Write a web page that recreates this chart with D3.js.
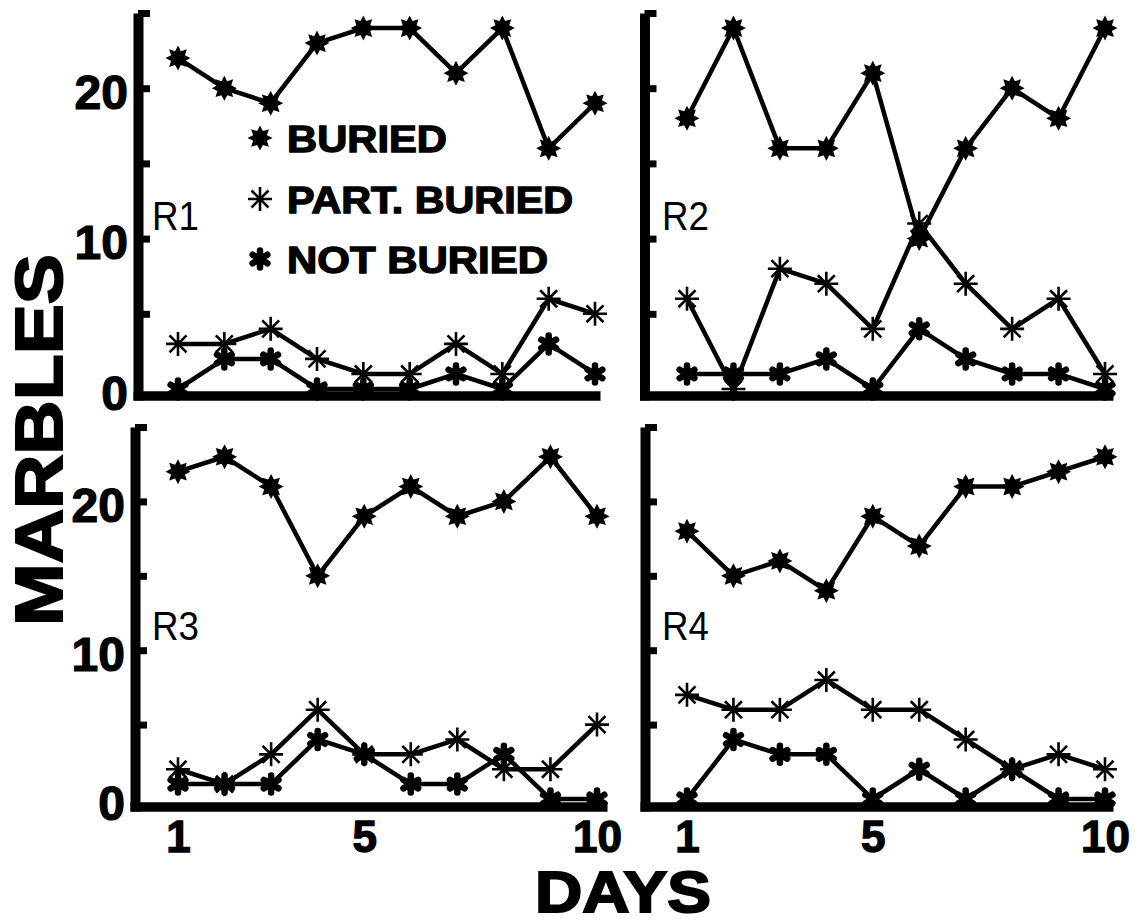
<!DOCTYPE html>
<html><head><meta charset="utf-8">
<script src="https://cdn.jsdelivr.net/npm/d3@7"></script>
<style>
html,body{margin:0;padding:0;background:#fff;}
svg{display:block;}
text{font-family:"Liberation Sans","Helvetica",Arial,sans-serif;}
</style></head>
<body>
<svg id="chart" width="1141" height="923"></svg>
<script>
// ---- data ----
const days = [1,2,3,4,5,6,7,8,9,10];
const seriesNames = ["BURIED","PART. BURIED","NOT BURIED"];
const panelNames = ["R1","R2","R3","R4"];
const r1Buried = [22,20,19,23,24,24,21,24,16,19];
const r1Part   = [3,3,4,2,1,1,3,1,6,5];
const r1Not    = [0,2,2,0,0,0,1,0,3,1];
const r2Buried = [18,24,16,16,21,10,16,20,18,24];
const r2Part   = [6,0,8,7,4,11,7,4,6,1];
const r2Not    = [1,1,1,2,0,4,2,1,1,0];
const r3Buried = [22,23,21,15,19,21,19,20,23,19];
const r3Part   = [2,1,3,6,3,3,4,2,2,5];
const r3Not    = [1,1,1,4,3,1,1,3,0,0];
const r4Buried = [18,15,16,14,19,17,21,21,22,23];
const r4Part   = [7,6,6,8,6,6,4,2,3,2];
const r4Not    = [0,4,3,3,0,2,0,2,0,0];
const yTicks = [0,5,10,15,20,25];
const yTickLabels = [0,10,20];
const xTickLabels = [1,5,10];

const panelData = [
  [r1Buried, r1Part, r1Not],
  [r2Buried, r2Part, r2Not],
  [r3Buried, r3Part, r3Not],
  [r4Buried, r4Part, r4Not]
];

// ---- layout ----
const layout = [
  {axisX:138,   x1:178, x10:595,  zeroY:389, topY:13,  baseY:395.5, xEnd:600,  left:true,  bottom:false, lab:[152,230]},
  {axisX:644.5, x1:687, x10:1105, zeroY:389, topY:13,  baseY:395.5, xEnd:1113, left:false, bottom:false, lab:[662,230]},
  {axisX:135,   x1:178, x10:597,  zeroY:799, topY:427, baseY:806.5, xEnd:607,  left:true,  bottom:true,  lab:[152,640]},
  {axisX:645,   x1:687, x10:1105, zeroY:799, topY:427, baseY:806.5, xEnd:1113, left:false, bottom:true,  lab:[662,640]}
];

const svg = d3.select("#chart");
svg.append("rect").attr("width",1141).attr("height",923).attr("fill","#fff");

// ---- marker shapes ----
function starPath(R, r, n){
  const p = d3.path();
  for(let i=0;i<2*n;i++){
    const a = -Math.PI/2 + i*Math.PI/n;
    const rad = i%2===0 ? R : r;
    const px = rad*Math.cos(a), py = rad*Math.sin(a);
    if(i===0) p.moveTo(px,py); else p.lineTo(px,py);
  }
  p.closePath();
  return p.toString();
}
function spokePath(R, angles){
  const p = d3.path();
  angles.forEach(a=>{
    const rad = a*Math.PI/180;
    p.moveTo(-R*Math.cos(rad), -R*Math.sin(rad));
    p.lineTo(R*Math.cos(rad), R*Math.sin(rad));
  });
  return p.toString();
}
function drawMarker(g, type, cx, cy){
  if(type===0){
    g.append("path").attr("d", starPath(12.5,7.5,8))
      .attr("transform",`translate(${cx},${cy})`).attr("fill","#000");
  } else if(type===1){
    g.append("path").attr("d", spokePath(12,[0,45,90,135]))
      .attr("transform",`translate(${cx},${cy})`)
      .attr("stroke","#000").attr("stroke-width",2.6).attr("fill","none");
  } else {
    g.append("path").attr("d", spokePath(8.5,[90,30,150]))
      .attr("transform",`translate(${cx},${cy})`)
      .attr("stroke","#000").attr("stroke-width",6.5).attr("stroke-linecap","round").attr("fill","none");
  }
}

// ---- panels ----
layout.forEach((L, pi)=>{
  const g = svg.append("g");
  const x = d3.scaleLinear().domain([1,10]).range([L.x1, L.x10]);
  const y = d3.scaleLinear().domain([0,25]).range([L.zeroY, L.topY]);

  // y axis (ticks point inward)
  const yAxisScale = y.copy().domain([y.invert(L.baseY+4.5), 25]).range([L.baseY+4.5, L.topY]);
  const yAxis = d3.axisLeft(yAxisScale)
    .tickValues(yTicks).tickSizeInner(-12).tickSizeOuter(0).tickPadding(10)
    .tickFormat(d => (L.left && yTickLabels.includes(d)) ? String(d) : "");
  const ya = g.append("g").attr("transform",`translate(${L.axisX},0)`).call(yAxis);
  ya.select(".domain").attr("stroke","#000").attr("stroke-width",10);
  ya.selectAll(".tick line").attr("stroke","#000").attr("stroke-width",7)
    .filter(d=>d===0).remove();
  ya.selectAll(".tick text").attr("fill","#000").attr("font-size",48).attr("font-weight","bold")
    .attr("stroke","#000").attr("stroke-width",1.2).attr("dy","0.42em");

  // x axis (thick baseline)
  const xAxisScale = x.copy().domain([x.invert(L.axisX-5), x.invert(L.xEnd)]).range([L.axisX-5, L.xEnd]);
  const xAxis = d3.axisBottom(xAxisScale).tickValues(xTickLabels)
    .tickSizeInner(0).tickSizeOuter(0).tickPadding(14)
    .tickFormat(d => L.bottom ? String(d) : "");
  const xa = g.append("g").attr("transform",`translate(0,${L.baseY})`).call(xAxis);
  xa.select(".domain").attr("stroke","#000").attr("stroke-width",9.5);
  xa.selectAll(".tick text").attr("fill","#000").attr("font-size",44).attr("font-weight","bold")
    .attr("stroke","#000").attr("stroke-width",1.3);

  // lines
  const line = d3.line().x((v,i)=>x(days[i])).y(v=>y(v));
  panelData[pi].forEach((vals, si)=>{
    g.append("path").attr("d", line(vals)).attr("fill","none")
      .attr("stroke","#000").attr("stroke-width",4.5).attr("stroke-linejoin","round");
  });
  panelData[pi].forEach((vals, si)=>{
    vals.forEach((v,i)=> drawMarker(g, si, x(days[i]), y(v)));
  });

  // panel label
  g.append("text").attr("x",L.lab[0]).attr("y",L.lab[1]).attr("font-size",41)
    .attr("textLength",47).attr("lengthAdjust","spacingAndGlyphs")
    .attr("fill","#000").text(panelNames[pi]);
});

// ---- legend (inside R1) ----
const legY = [138, 199, 259];
const lg = svg.append("g");
seriesNames.forEach((s,i)=>{
  drawMarker(lg, i, 260, legY[i]);
  lg.append("text").attr("x",287).attr("y",legY[i]+13.5).attr("font-size",36)
    .attr("font-weight","bold").attr("stroke","#000").attr("stroke-width",1.3)
    .attr("fill","#000").attr("textLength", [160,286,261][i]).attr("lengthAdjust","spacingAndGlyphs")
    .text(s);
});

// ---- axis titles ----
svg.append("text").attr("transform","translate(62,440) rotate(-90)")
  .attr("text-anchor","middle").attr("font-size",66).attr("font-weight","bold")
  .attr("stroke","#000").attr("stroke-width",2)
  .attr("textLength",372).attr("lengthAdjust","spacingAndGlyphs")
  .attr("fill","#000").text("MARBLES");
svg.append("text").attr("x",623).attr("y",912)
  .attr("text-anchor","middle").attr("font-size",58).attr("font-weight","bold")
  .attr("stroke","#000").attr("stroke-width",2)
  .attr("textLength",176).attr("lengthAdjust","spacingAndGlyphs")
  .attr("fill","#000").text("DAYS");
</script>
</body></html>
